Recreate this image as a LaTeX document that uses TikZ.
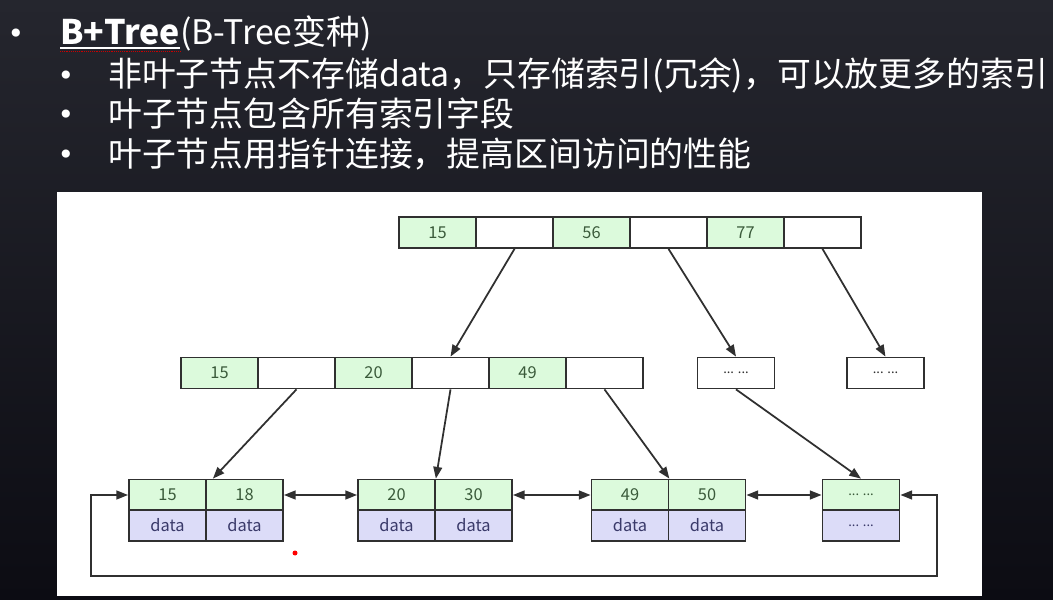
\documentclass[tikz,border=0pt]{standalone}
\usepackage{fontspec}
\usepackage{xcolor}
\usepackage{tikz}
\usetikzlibrary{arrows.meta}
\newfontfamily\cjk{Noto Sans CJK SC}
\newfontfamily\symb{DejaVu Sans}

\definecolor{bgtop}{HTML}{25262E}
\definecolor{bgbot}{HTML}{0C0C13}
\definecolor{keyfill}{HTML}{DCFADC}
\definecolor{datfill}{HTML}{DCDCF8}
\definecolor{keytxt}{HTML}{3A5A3A}
\definecolor{dattxt}{HTML}{3A3A6A}
\definecolor{edge}{HTML}{303030}

\begin{document}
\begin{tikzpicture}[
  x=0.03cm, y=-0.03cm,
  cell/.style={draw=edge, line width=1.5pt, minimum width=2.31cm, minimum height=0.93cm,
               inner sep=0pt, font=\cjk\fontsize{14}{16}\selectfont},
  key/.style={cell, fill=keyfill, text=keytxt},
  dat/.style={cell, fill=datfill, text=dattxt},
  emp/.style={cell, fill=white, text=edge},
  arr/.style={-{Triangle[length=10pt,width=7.5pt]}, line width=1.5pt, draw=edge},
  dbl/.style={{Triangle[length=10pt,width=7.5pt]}-{Triangle[length=10pt,width=7.5pt]}, line width=1.5pt, draw=edge},
  head/.style={anchor=west, text=white, font=\cjk\fontsize{28.9}{30}\selectfont, inner sep=0pt},
  dot/.style={anchor=center, text=white, font=\symb\fontsize{24}{24}\selectfont, inner sep=0pt}
]
\useasboundingbox (0,0) rectangle (1053,600);

%% Background and slide panel
\shade[top color=bgtop, bottom color=bgbot] (0,0) rectangle (1053,600);
\fill[white] (57,192) rectangle (982,596);

%% Bullet list
\node[dot]  (b0) at (16,36)  {•};
\node[head] (t0) at (60,33)  {\bfseries B+Tree\mdseries(B-Tree变种)};
\node[dot]  (b1) at (66,78)  {•};
\node[head] (t1) at (108,75) {非叶子节点不存储data，只存储索引(冗余)，可以放更多的索引};
\node[dot]  (b2) at (66,117) {•};
\node[head] (t2) at (108,114){叶子节点包含所有索引字段};
\node[dot]  (b3) at (66,157) {•};
\node[head] (t3) at (108,154){叶子节点用指针连接，提高区间访问的性能};
\draw[white, line width=1pt] (60,48) -- (180,48);
\draw[red!80!black, line width=0.6pt, densely dotted] (60,51) -- (180,51);

%% Root
\node[key] (r1) at (437.5,232.5) {15};
\node[emp] (r2) at (514.5,232.5) {};
\node[key] (r3) at (591.5,232.5) {56};
\node[emp] (r4) at (668.5,232.5) {};
\node[key] (r5) at (745.5,232.5) {77};
\node[emp] (r6) at (822.5,232.5) {};

%% Second level
\node[key] (m1) at (219.5,373) {15};
\node[emp] (m2) at (296.5,373) {};
\node[key] (m3) at (373.5,373) {20};
\node[emp] (m4) at (450.5,373) {};
\node[key] (m5) at (527.5,373) {49};
\node[emp] (m6) at (604.5,373) {};
\node[emp] (e1) at (736,373)   {\fontsize{11}{12}\selectfont ... ...};
\node[emp] (e2) at (885.5,373) {\fontsize{11}{12}\selectfont ... ...};

%% Leaves
\node[key] (a1) at (167.5,495)   {15};
\node[key] (a2) at (244.5,495)   {18};
\node[dat] (a3) at (167.5,525.5) {data};
\node[dat] (a4) at (244.5,525.5) {data};

\node[key] (c1) at (396.5,495)   {20};
\node[key] (c2) at (473.5,495)   {30};
\node[dat] (c3) at (396.5,525.5) {data};
\node[dat] (c4) at (473.5,525.5) {data};

\node[key] (f1) at (630,495)     {49};
\node[key] (f2) at (707,495)     {50};
\node[dat] (f3) at (630,525.5)   {data};
\node[dat] (f4) at (707,525.5)   {data};

\node[key] (g1) at (861,495)     {\fontsize{11}{12}\selectfont ... ...};
\node[dat] (g2) at (861,525.5)   {\fontsize{11}{12}\selectfont ... ...};

%% Tree pointers
\draw[arr] (r2.south) -- (m4.north);
\draw[arr] (r4.south) -- (e1.north);
\draw[arr] (r6.south) -- (e2.north);
\draw[arr] (m2.south) -- ([xshift=0.18cm]a1.north east);
\draw[arr] (m4.south) -- (c1.north east);
\draw[arr] (m6.south) -- (f1.north east);
\draw[arr] (e1.south) -- (g1.north);

%% Leaf links
\draw[dbl] (a2.east) -- (c1.west);
\draw[dbl] (c2.east) -- (f1.west);
\draw[dbl] (f2.east) -- (g1.west);

\coordinate (lpL) at (91,576);
\coordinate (lpR) at (937,576);
\draw[dbl] (a1.west) -| (lpL) -- (lpR) |- (g1.east);

%% Pointer mark
\fill[red] (295,553) circle (2.5);

\end{tikzpicture}
\end{document}
